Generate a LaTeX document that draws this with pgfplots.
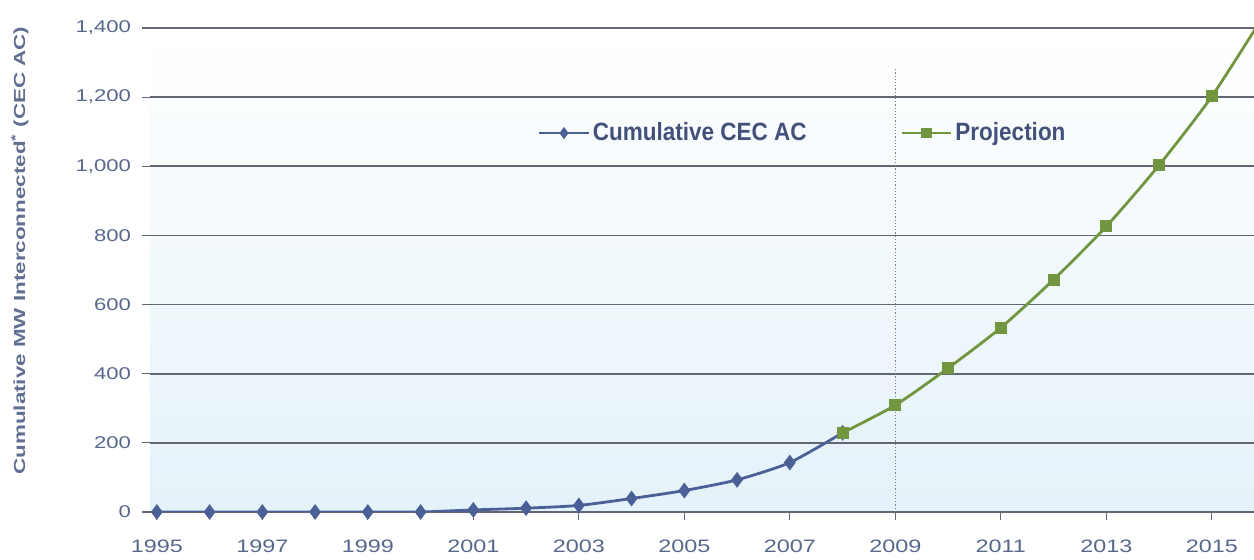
\documentclass[border=0pt]{standalone}
\usepackage{fontspec}
\setmainfont[FakeStretch=1.3]{Liberation Sans}
\newfontfamily\ylabfont[FakeStretch=1.4]{Liberation Sans}
\newfontfamily\legfont[FakeStretch=0.9]{Liberation Sans}
\usepackage{pgfplots}
\pgfplotsset{compat=1.18}
\definecolor{bluec}{RGB}{74,96,150}
\definecolor{greenc}{RGB}{114,150,63}
\definecolor{tickc}{RGB}{88,103,140}
\definecolor{legc}{RGB}{66,80,122}
\definecolor{gridc}{RGB}{98,103,116}
\definecolor{ylabc}{RGB}{95,110,145}
\definecolor{bgblue}{RGB}{228,242,249}
\begin{document}
\begin{tikzpicture}
\begin{axis}[
  scale only axis, width=552pt, height=242pt,
  xmin=1994.87, xmax=2015.8, ymin=0, ymax=1400,
  axis x line*=bottom, axis y line*=left,
  y axis line style={draw=none},
  x axis line style={draw=gridc, line width=0.8pt},
  axis background/.style={top color=white, bottom color=bgblue},
  xtick={1995,1997,...,2015},
  ytick={0,200,...,1400},
  ymajorgrids, grid style={gridc, line width=0.8pt},
  tick align=outside, major tick length=4pt,
  tick style={gridc, line width=0.6pt},
  /pgf/number format/assume math mode=true,
  xticklabel style={/pgf/number format/1000 sep={}, font=\fontsize{9}{10}\selectfont, text=tickc, yshift=-6.5pt},
  yticklabel style={/pgf/number format/1000 sep={,}, font=\fontsize{8.5}{10}\selectfont, text=tickc, xshift=-2pt},
  ylabel={Cumulative MW Interconnected\textsuperscript{*} (CEC AC)},
  ylabel style={font=\ylabfont\bfseries\fontsize{8}{9}\selectfont, text=ylabc, at={(axis description cs:-0.1178,0.54)}, anchor=center},
  legend columns=2,
  legend style={at={(axis cs:2002.22,1096)}, anchor=west, draw=none, fill=none, inner sep=0pt,
    font=\legfont\bfseries\fontsize{12.5}{14}\selectfont, text=legc,
    /tikz/every even column/.append style={column sep=45.5pt},
    nodes={inner xsep=1.5pt}},
  legend cell align=left,
  legend image code/.code={\draw[#1, mark indices={2}, mark size=1.9pt] plot coordinates {(0pt,0pt) (12.25pt,0pt) (24.5pt,0pt)};},
]
\addplot[bluec, line width=1.4pt, smooth, tension=0.4, mark=diamond*, mark size=2.8pt, mark options={fill=bluec, draw=bluec}]
  coordinates {(1995,0) (1996,0) (1997,0) (1998,0) (1999,0) (2000,0) (2001,6) (2002,11) (2003,19) (2004,39) (2005,62) (2006,93) (2007,143) (2008,229)};
\addlegendentry{Cumulative CEC AC}
\addplot[greenc, line width=1.4pt, smooth, tension=0.4, mark=square*, mark size=2.3pt, mark options={fill=greenc, draw=greenc}, mark indices={1,...,8}]
  coordinates {(2008,229) (2009,309) (2010,416) (2011,533) (2012,672) (2013,826) (2014,1003) (2015,1202) (2016,1440)};
\addlegendentry{Projection}
\addplot[forget plot, gray, line width=0.6pt, densely dotted] coordinates {(2009,0) (2009,1280)};
\end{axis}
\pgfresetboundingbox
\path (-75pt,-24pt) rectangle (552pt,256pt);
\end{tikzpicture}
\end{document}
